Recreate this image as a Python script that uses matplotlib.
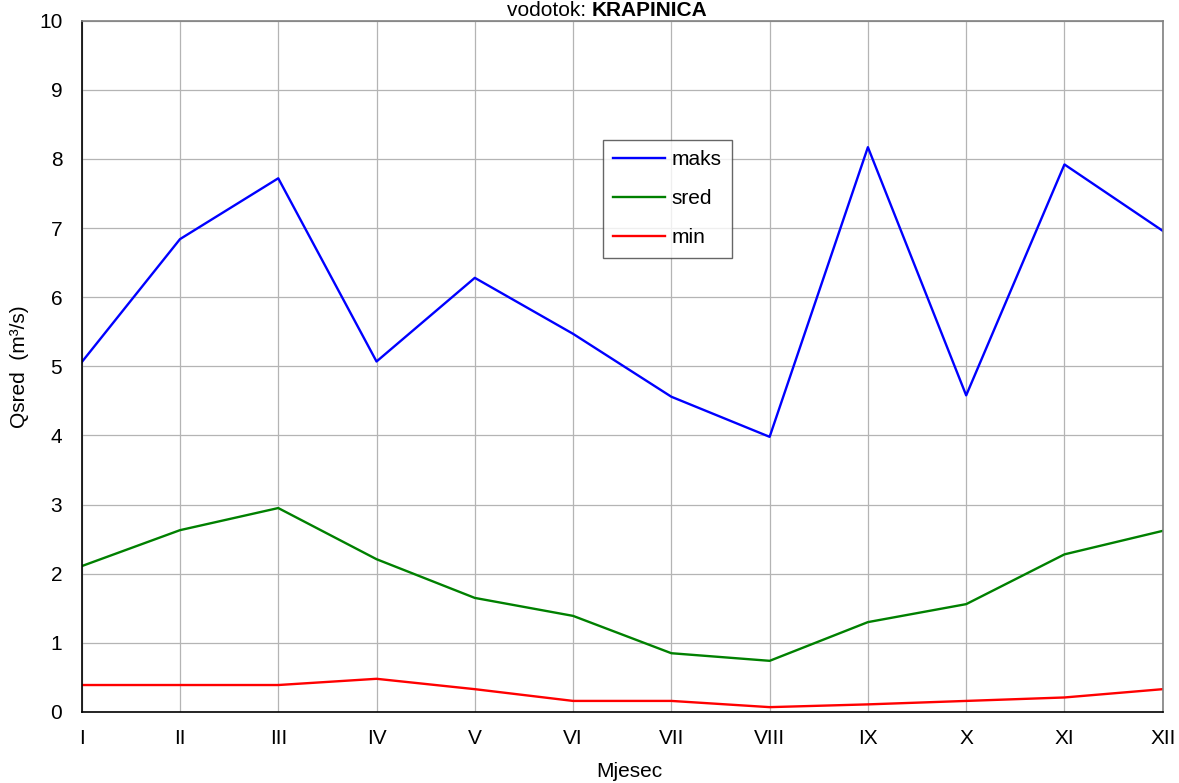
import matplotlib
matplotlib.use('Agg')
import matplotlib.pyplot as plt

plt.rcParams['font.family'] = ['Liberation Sans', 'DejaVu Sans']

# mjeseci i protoci (m3/s) ocitani s grafa
months = ['I', 'II', 'III', 'IV', 'V', 'VI', 'VII', 'VIII', 'IX', 'X', 'XI', 'XII']
q_maks = [5.06, 6.84, 7.72, 5.07, 6.28, 5.47, 4.56, 3.98, 8.17, 4.58, 7.92, 6.96]
q_sred = [2.11, 2.63, 2.95, 2.21, 1.65, 1.39, 0.85, 0.74, 1.30, 1.56, 2.28, 2.62]
q_min = [0.39, 0.39, 0.39, 0.48, 0.33, 0.16, 0.16, 0.07, 0.11, 0.16, 0.21, 0.33]

fig = plt.figure(figsize=(11.79, 7.83), dpi=100)
ax = fig.add_axes([0.0693, 0.0907, 0.9169, 0.8829])

x = range(len(months))
ax.plot(x, q_maks, color='#0000ff', lw=1.7, label='maks')
ax.plot(x, q_sred, color='#008000', lw=1.7, label='sred')
ax.plot(x, q_min, color='#ff0000', lw=1.7, label='min')

ax.set_xlim(0, len(months) - 1)
ax.set_ylim(0, 10)
ax.set_xticks(list(x))
ax.set_xticklabels(months)
ax.set_yticks(range(0, 11))
ax.tick_params(length=0, labelsize=15)
ax.tick_params(axis='x', pad=12)
ax.tick_params(axis='y', pad=14)
ax.grid(True, color='#b4b4b4', lw=0.9)
ax.set_axisbelow(True)

for s in ['left', 'bottom']:
    ax.spines[s].set_color('black')
    ax.spines[s].set_linewidth(1.2)
for s in ['top', 'right']:
    ax.spines[s].set_color('#808080')
    ax.spines[s].set_linewidth(1.2)

ax.set_xlabel('Mjesec', fontsize=15, labelpad=10)
ax.xaxis.label.set_x(0.507)
ax.set_ylabel('Qsred  (m³/s)', fontsize=15, labelpad=7)

fig.text(0.502, 0.9796, 'vodotok: ', ha='right', va='baseline', fontsize=15)
fig.text(0.502, 0.9796, 'KRAPINICA', ha='left', va='baseline', fontsize=15, fontweight='bold')

leg = ax.legend(loc='upper left', bbox_to_anchor=(0.4818, 0.8279), fontsize=15,
                frameon=True, fancybox=False, edgecolor='#404040',
                handlelength=2.5, labelspacing=0.97, borderpad=0.5,
                handletextpad=0.3, borderaxespad=0)
leg.get_frame().set_linewidth(1.0)

fig.savefig('out.png', dpi=100)
